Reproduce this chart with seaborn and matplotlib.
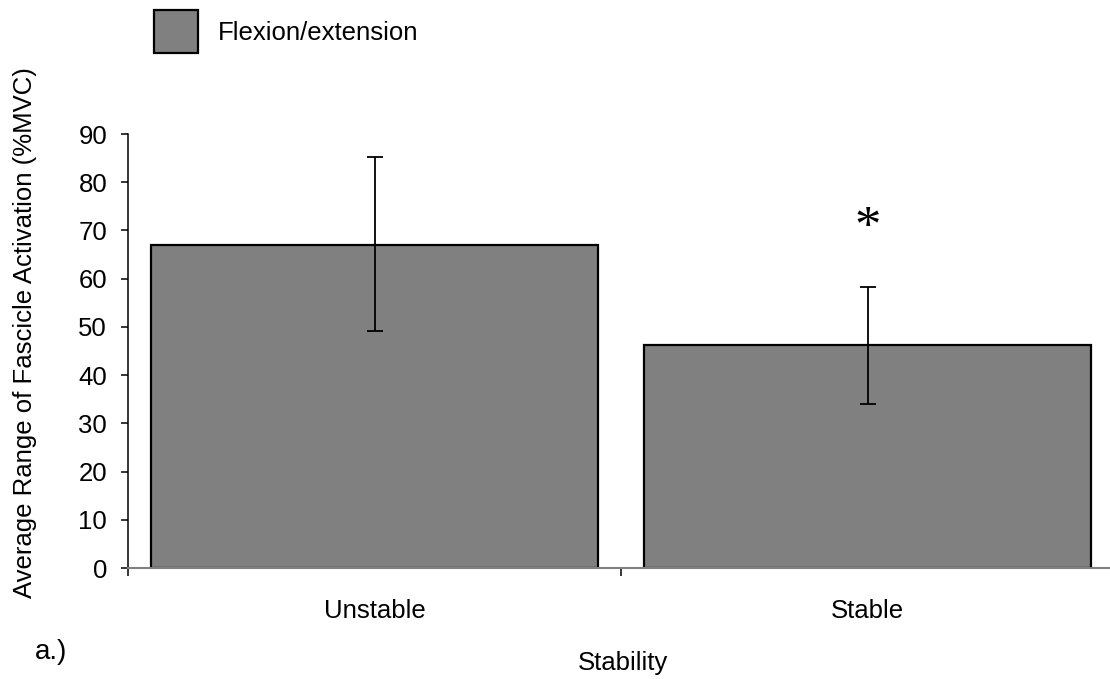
import matplotlib
matplotlib.use("Agg")
import matplotlib.pyplot as plt
import seaborn as sns
import numpy as np
from matplotlib.ticker import FixedLocator

categories = ["Unstable", "Stable"]
means = [67.0, 46.3]
err_upper = [85.2, 58.3]
err_lower = [49.2, 34.0]
yticks = [0, 10, 20, 30, 40, 50, 60, 70, 80, 90]
series_label = "Flexion/extension"

sns.set_style("white")
plt.rcParams['font.family'] = ['Liberation Sans', 'DejaVu Sans']
plt.rcParams['text.color'] = 'black'
plt.rcParams['axes.labelcolor'] = 'black'
plt.rcParams['xtick.color'] = 'black'
plt.rcParams['ytick.color'] = 'black'

W, H = 1110, 679
fig = plt.figure(figsize=(W / 100, H / 100), dpi=100)
ax = fig.add_axes([128 / W, 1 - 568 / H, (1114 - 128) / W, (568 - 134) / H])

sns.barplot(x=categories, y=means, color="#808080", edgecolor="black",
            linewidth=1.6, width=0.907, errorbar=None, label=series_label,
            saturation=1, ax=ax)

m = np.array(means)
yerr = np.vstack([m - np.array(err_lower), np.array(err_upper) - m])
ax.errorbar(np.arange(len(categories)), m, yerr=yerr, fmt="none",
            ecolor="black", elinewidth=1.3, capsize=5.5, capthick=1.3)

ax.set_xlim(-0.5, 1.5)
ax.set_ylim(0, 90)
ax.set_yticks(yticks)
ax.set_yticklabels([str(v) for v in yticks])

for s in ["top", "right"]:
    ax.spines[s].set_visible(False)
ax.spines["left"].set_color("black")
ax.spines["left"].set_linewidth(1.1)
ax.spines["bottom"].set_color("#808080")
ax.spines["bottom"].set_linewidth(1.5)

ax.tick_params(axis="y", which="major", direction="out", length=5, width=1.1,
               color="black", labelcolor="black", labelsize=18.5, pad=10, left=True)
ax.tick_params(axis="x", which="major", length=0, labelsize=18.5, pad=22,
               labelcolor="black", bottom=True)
ax.xaxis.set_minor_locator(FixedLocator([-0.5, 0.5, 1.5]))
ax.tick_params(axis="x", which="minor", direction="out", length=6, width=1.1,
               color="black", bottom=True)
ax.set_xlabel("")
ax.set_ylabel("")

# significance marker
ax.text(1, 70.3, "*", ha="center", va="center", fontsize=38,
        family="Liberation Serif", color="black")

fig.text(623 / W, 1 - 663 / H, "Stability", ha="center", va="center", fontsize=18.5)
fig.text(25 / W, 1 - 333 / H, "Average Range of Fascicle Activation (%MVC)",
         rotation=90, ha="center", va="center", fontsize=18.5)
fig.text(35 / W, 1 - 652 / H, "a.)", ha="left", va="center", fontsize=20)

leg = ax.legend(loc="upper left", bbox_to_anchor=(154 / W, 1 - 10 / H),
                bbox_transform=fig.transFigure, frameon=False, fontsize=18.5,
                handlelength=1.7, handleheight=2.2, handletextpad=0.8,
                borderpad=0, borderaxespad=0)
for t in leg.get_texts():
    t.set_color("black")

fig.savefig("out.png", dpi=100)
